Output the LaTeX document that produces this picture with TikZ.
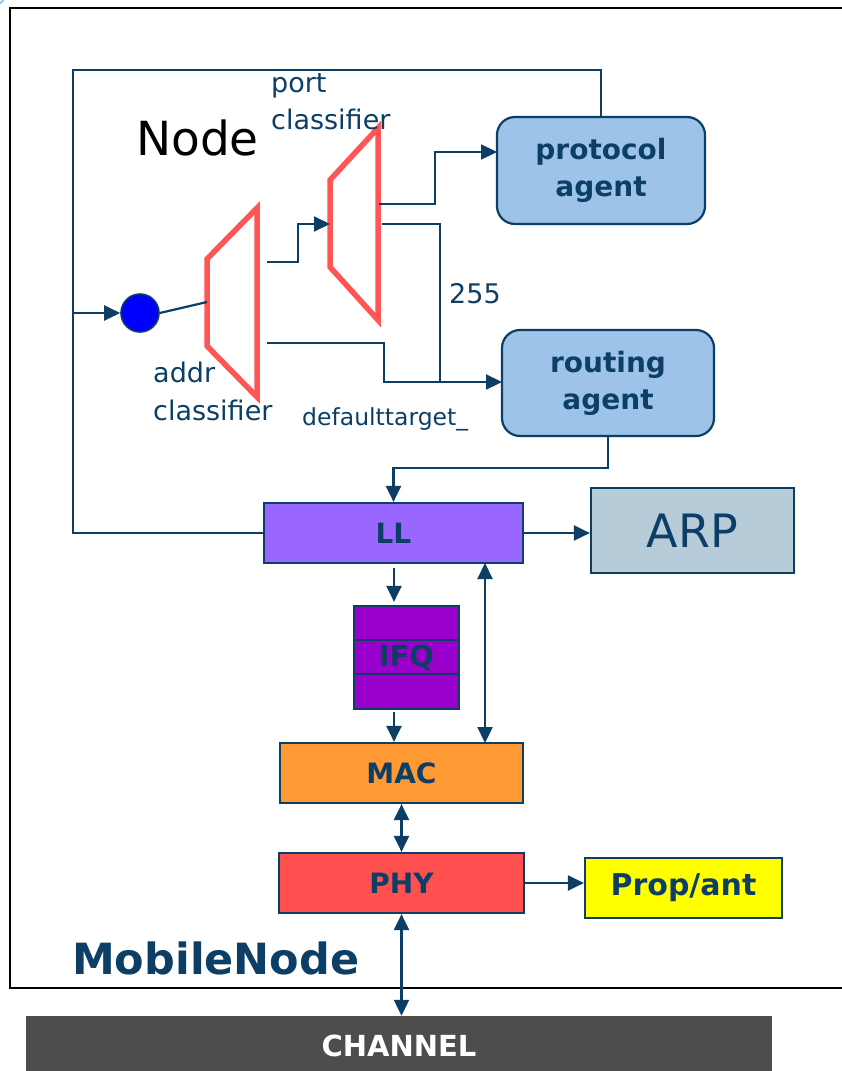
\documentclass[tikz,border=0pt]{standalone}
\usepackage{fontspec}
\setmainfont{DejaVu Sans}
\usetikzlibrary{arrows.meta}
\definecolor{ink}{HTML}{0D3F66}
\definecolor{agentblue}{HTML}{9DC3E8}
\definecolor{arpgray}{HTML}{B7CCD9}
\definecolor{llviolet}{HTML}{9966FF}
\definecolor{ifqpurple}{HTML}{9900CC}
\definecolor{macorange}{HTML}{FF9933}
\definecolor{phyred}{HTML}{FF5050}
\definecolor{propyellow}{HTML}{FFFF00}
\definecolor{chgray}{HTML}{4D4D4D}
\definecolor{clred}{HTML}{FF5555}
\definecolor{cornerblue}{HTML}{9DC3E8}
\newcommand{\setfs}[1]{\fontsize{#1}{#1}\selectfont}
\begin{document}
\begin{tikzpicture}[x=1pt,y=-1pt,
  wire/.style={draw=ink, line width=2.2pt},
  arr/.style={wire, -{Triangle[length=16pt,width=15pt]}},
  darr/.style={wire, {Triangle[length=16pt,width=15pt]}-{Triangle[length=16pt,width=15pt]}},
  layer/.style={draw=ink, line width=2.2pt, inner sep=0pt, text=ink, font=\setfs{28}\bfseries},
  agent/.style={layer, rounded corners=18pt, fill=agentblue, align=center, font=\fontsize{28}{37}\selectfont\bfseries},
  classif/.style={draw=clred, line width=5.5pt, line join=miter},
  lbl/.style={text=ink, inner sep=0pt, anchor=base west, font=\setfs{27}}]
\useasboundingbox (0,0) rectangle (842,1071);
\fill[white] (0,0) rectangle (842,1071);
\draw[cornerblue, line width=2pt] (-8,-8) circle (14);

% MobileNode frame
\draw[black, line width=2.2pt] (10,8) rectangle (870,988);

% agents and layers
\node[agent, minimum width=208, minimum height=107] (pa) at (601,170.5) {protocol\\agent};
\node[agent, minimum width=212, minimum height=106] (ra) at (608,383) {routing\\agent};
\node[layer, fill=arpgray, minimum width=203, minimum height=85, font=\setfs{46}] (arp) at (692.5,530.5) {ARP};
\node[layer, fill=llviolet, minimum width=259, minimum height=60] (ll) at (393.5,533) {LL};
\node[layer, fill=ifqpurple, minimum width=105, minimum height=103] (ifq) at (406.5,657.5) {};
\draw[ink, line width=1.6pt] (ifq.west |- 0,640) -- (ifq.east |- 0,640)
                             (ifq.west |- 0,674) -- (ifq.east |- 0,674);
\node[text=ink, font=\setfs{29}\bfseries] (ifqlabel) at (ifq.center) {IFQ};
\node[layer, fill=macorange, minimum width=243, minimum height=60] (mac) at (401.5,773) {MAC};
\node[layer, fill=phyred, minimum width=245, minimum height=60] (phy) at (401.5,883) {PHY};
\node[layer, fill=propyellow, minimum width=197, minimum height=60, font=\setfs{30}\bfseries] (prop) at (683.5,888) {Prop/ant};
\node[fill=chgray, inner sep=0pt, minimum width=746, minimum height=60, text=white, font=\setfs{29}\bfseries] (ch) at (399,1046) {\raisebox{-3pt}{CHANNEL}};

% entry point
\node[circle, fill=blue, draw=ink, line width=1.6pt, minimum size=38, inner sep=0pt] (dot) at (140,313) {};

% classifiers
\draw[classif] (207,259) -- (257,208) -- (257,397) -- (207,346) -- cycle;
\draw[classif] (330,180) -- (378,128) -- (378,320) -- (330,267) -- cycle;
\coordinate (ain) at (207,302);
\coordinate (aout1) at (267,262);
\coordinate (aout2) at (267,343);
\coordinate (pin) at (330,224);
\coordinate (pout1) at (379,204);
\coordinate (pout2) at (382,224);
\coordinate (pain) at (497,152);
\coordinate (rain) at (502,382);
\coordinate (loop) at (73,70);
\coordinate (cin) at (73,313);
\coordinate (rjoin) at (ll.north |- 0,468);
\coordinate (llr) at (485,563);
\coordinate (macr) at (485,743);

% node-level wiring
\draw[wire] (pa.north) |- (loop) |- (ll.west);
\draw[arr] (cin) -- (dot.west);
\draw[wire] (dot.east) -- (ain);
\draw[arr] (aout1) -- (298,262) |- (pin);
\draw[arr] (pout1) -- (435,204) |- (pain);
\draw[wire] (pout2) -- (440,224) -- (440,382);
\draw[arr] (aout2) -- (384,343) |- (rain);
\draw[arr] (ra.south) |- (rjoin) -- (ll.north);

% stack wiring
\draw[arr] (ll.east) -- (ll.east -| arp.west);
\draw[arr, shorten <=4pt, shorten >=3pt] (ll.south -| 394,0) -- (ifq.north -| 394,0);
\draw[arr, shorten <=2pt] (ifq.south -| 394,0) -- (mac.north -| 394,0);
\draw[darr] (llr) -- (macr);
\draw[darr] (mac.south) -- (phy.north);
\draw[arr] (phy.east) -- (phy.east -| prop.west);
\draw[darr] (phy.south) -- (phy.south |- ch.north);

% labels
\node[anchor=base west, inner sep=0pt, font=\setfs{47}] (nodetitle) at (136,155) {Node};
\node[lbl] (port1) at (271,92) {port};
\node[lbl] (port2) at (271,129) {classifier};
\node[lbl] (addr1) at (153,382) {addr};
\node[lbl] (addr2) at (153,420) {classifier};
\node[lbl] (n255) at (449,303) {255};
\node[lbl, font=\setfs{23.5}] (deft) at (302,425) {defaulttarget\_};
\node[anchor=base west, inner sep=0pt, text=ink, font=\setfs{43}\bfseries] (mntitle) at (72,974) {MobileNode};
\end{tikzpicture}
\end{document}
